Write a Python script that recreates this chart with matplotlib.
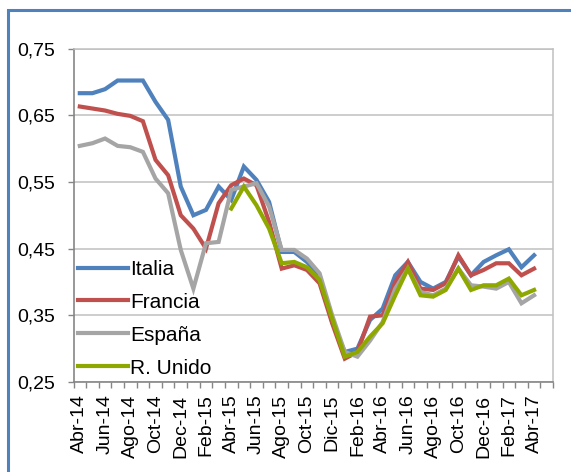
import matplotlib
matplotlib.use("Agg")
import matplotlib.pyplot as plt
from matplotlib.patches import Rectangle
from matplotlib.ticker import FixedLocator, FuncFormatter
import numpy as np

plt.rcParams['font.family'] = ['Liberation Sans', 'DejaVu Sans']

# meses de Abr-14 a Abr-17 (37 datos, eje con 38 categorías)
meses = ["Abr-14", "May-14", "Jun-14", "Jul-14", "Ago-14", "Sep-14", "Oct-14", "Nov-14",
         "Dec-14", "Ene-15", "Feb-15", "Mar-15", "Abr-15", "May-15", "Jun-15", "Jul-15",
         "Ago-15", "Sep-15", "Oct-15", "Nov-15", "Dic-15", "Ene-16", "Feb-16", "Mar-16",
         "Abr-16", "May-16", "Jun-16", "Jul-16", "Ago-16", "Sep-16", "Oct-16", "Nov-16",
         "Dec-16", "Ene-17", "Feb-17", "Mar-17", "Abr-17"]

italia = [0.683, 0.683, 0.689, 0.702, 0.702, 0.702, 0.670, 0.643, 0.543, 0.500,
          0.508, 0.543, 0.523, 0.573, 0.553, 0.520, 0.445, 0.445, 0.430, 0.410,
          0.340, 0.295, 0.300, 0.343, 0.360, 0.410, 0.430, 0.400, 0.390, 0.400,
          0.438, 0.410, 0.430, 0.440, 0.449, 0.422, 0.440]

francia = [0.663, 0.660, 0.657, 0.652, 0.649, 0.641, 0.583, 0.560, 0.500, 0.480,
           0.450, 0.518, 0.545, 0.555, 0.545, 0.490, 0.420, 0.425, 0.418, 0.398,
           0.338, 0.285, 0.295, 0.348, 0.350, 0.400, 0.430, 0.390, 0.388, 0.398,
           0.440, 0.410, 0.418, 0.428, 0.428, 0.410, 0.420]

espana = [0.604, 0.608, 0.615, 0.604, 0.602, 0.595, 0.555, 0.533, 0.448, 0.390,
          0.458, 0.460, 0.538, 0.543, 0.548, 0.513, 0.448, 0.448, 0.435, 0.413,
          0.350, 0.295, 0.288, 0.312, 0.340, 0.390, 0.420, 0.385, 0.380, 0.390,
          0.420, 0.395, 0.393, 0.390, 0.400, 0.368, 0.380]

reino_unido = [None] * 12 + [
    0.510, 0.543, 0.515, 0.480, 0.428, 0.430, 0.422, 0.403,
    0.345, 0.288, 0.295, 0.318, 0.338, 0.380, 0.420, 0.380, 0.378, 0.388,
    0.420, 0.388, 0.395, 0.395, 0.405, 0.380, 0.388]

series = [("Italia", italia, "#4F81BD"),
          ("Francia", francia, "#C0504D"),
          ("España", espana, "#A5A5A5"),
          ("R. Unido", reino_unido, "#8EA800")]

W, H = 571, 472
fig = plt.figure(figsize=(W / 100, H / 100), dpi=100)

# marco azul exterior
fig.patches.append(Rectangle((8 / W, -0.2), 1.5, 1 - 10 / H + 0.2, transform=fig.transFigure,
                             fill=False, edgecolor="#4F81BD", linewidth=2.2, clip_on=False))

ax = fig.add_axes([73.5 / W, 1 - 382 / H, 479.5 / W, 333.5 / H])

x = np.arange(len(meses))
for nombre, valores, color in series:
    y = np.array([np.nan if v is None else v for v in valores], dtype=float)
    ax.plot(x, y, color=color, linewidth=3.0, label=nombre, solid_joinstyle="miter")

ax.set_xlim(-0.5, len(meses) + 0.5)
ax.set_ylim(0.25, 0.75)
ax.set_yticks([0.25, 0.35, 0.45, 0.55, 0.65, 0.75])
ax.yaxis.set_major_formatter(FuncFormatter(lambda v, p: f"{v:.2f}".replace(".", ",")))
ax.grid(axis="y", color="#C0C0C0", linewidth=1.1)
ax.set_axisbelow(True)

ax.set_xticks(x[::2])
ax.set_xticklabels(meses[::2], rotation=90)
ax.xaxis.set_minor_locator(FixedLocator(np.arange(-0.5, len(meses) + 1, 1.0)))
ax.tick_params(axis="x", which="major", length=0, pad=9, labelsize=14)
ax.tick_params(axis="x", which="minor", length=4, width=1, color="#868686", direction="out")
ax.tick_params(axis="y", length=4, width=1, color="#868686", pad=9, labelsize=14)

for lado in ["top", "right"]:
    ax.spines[lado].set_color("#C0C0C0")
    ax.spines[lado].set_linewidth(1.1)
for lado in ["left", "bottom"]:
    ax.spines[lado].set_color("#868686")
    ax.spines[lado].set_linewidth(1.2)

ax.legend(loc="lower left", bbox_to_anchor=(-0.008, -0.012), frameon=False, fontsize=15,
          handlelength=2.4, handletextpad=0.1, labelspacing=0.67, borderaxespad=0.0)

fig.savefig("out.png", dpi=100)
